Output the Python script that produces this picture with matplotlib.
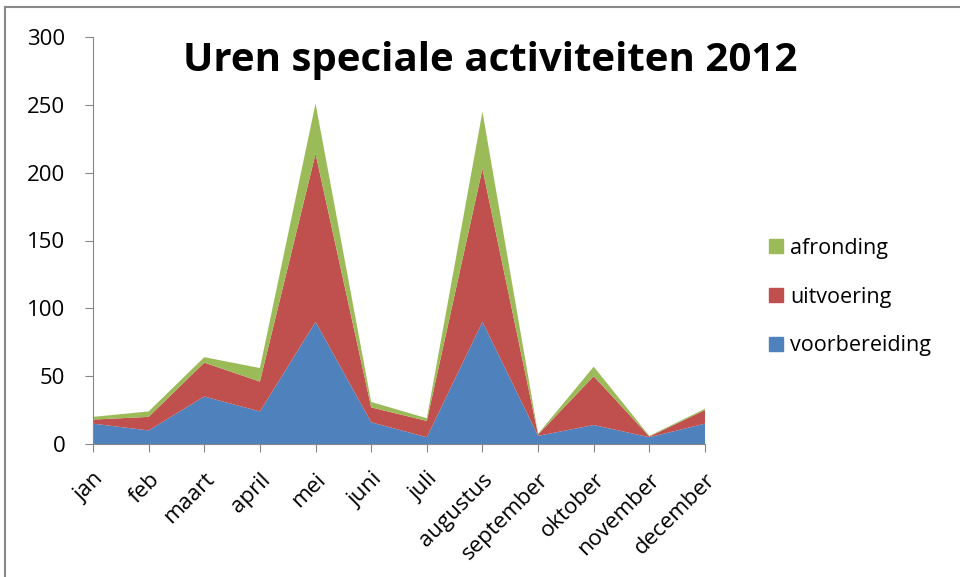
import matplotlib
matplotlib.use("Agg")
import matplotlib.pyplot as plt
from matplotlib.patches import Patch

months = ["jan", "feb", "maart", "april", "mei", "juni", "juli",
          "augustus", "september", "oktober", "november", "december"]
voorbereiding = [15, 10, 35, 24, 90, 16, 5, 90, 6, 14, 5, 15]
uitvoering = [3, 10, 25, 22, 124, 11, 12, 113, 1, 36, 0.5, 10]
afronding = [2, 4, 4, 10, 37, 4, 2, 42, 0.5, 7, 0.5, 1]

colors = ["#4F81BD", "#C0504D", "#9BBB59"]
labels = ["voorbereiding", "uitvoering", "afronding"]

plt.rcParams["font.family"] = ["Open Sans", "DejaVu Sans"]

fig = plt.figure(figsize=(9.6, 5.77), dpi=100)
ax = fig.add_axes([93/960, 1-444/577, (705-93)/960, (444-37)/577])

x = list(range(len(months)))
ax.stackplot(x, voorbereiding, uitvoering, afronding, colors=colors, linewidth=0)

ax.set_xlim(0, len(months)-1)
ax.set_ylim(0, 300)
ax.set_yticks(range(0, 301, 50))
ax.set_xticks(x)
ax.set_xticklabels(months, rotation=45, ha="right", rotation_mode="anchor", fontsize=16)
ax.tick_params(axis="y", labelsize=16, length=6, color="#868686", pad=14)
ax.tick_params(axis="x", length=6, color="#868686", pad=12)

for s in ["top", "right"]:
    ax.spines[s].set_visible(False)
for s in ["left", "bottom"]:
    ax.spines[s].set_color("#868686")

fig.text(490/960, 1-60/577, "Uren speciale activiteiten 2012", ha="center", va="center",
         fontsize=29, fontweight="bold")

handles = [Patch(color=colors[i]) for i in [2, 1, 0]]
fig.legend(handles, [labels[i] for i in [2, 1, 0]], loc="center left",
           bbox_to_anchor=(750/960, 1-297/577), frameon=False, fontsize=15.5,
           handlelength=0.65, handleheight=0.65, labelspacing=1.3, handletextpad=0.3)

# chart area border
fig.add_artist(plt.Line2D([5/960, 5/960], [0, 1-7/577], transform=fig.transFigure, color="#888888", lw=1.5))
fig.add_artist(plt.Line2D([5/960, 1], [1-7/577, 1-7/577], transform=fig.transFigure, color="#888888", lw=1.5))

fig.savefig("out.png", dpi=100)
